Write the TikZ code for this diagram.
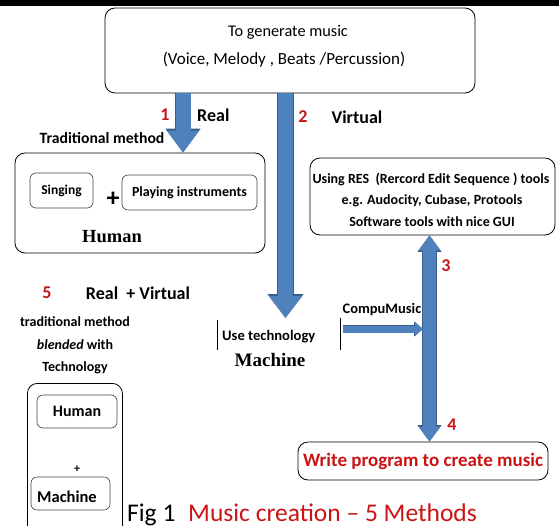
\documentclass[tikz,border=0pt]{standalone}
\usepackage{fontspec}
\setmainfont{Carlito}
\newfontfamily\serifface{Liberation Serif}
\usetikzlibrary{arrows.meta, positioning, calc}

\begin{document}
\begin{tikzpicture}[x=1pt, y=-1pt, font=\bfseries]
\definecolor{arrowblue}{RGB}{79, 129, 189}
\definecolor{arrowedge}{RGB}{56, 93, 138}
\definecolor{labelred}{RGB}{200, 20, 20}
\tikzset{
  roundbox/.style={draw, rounded corners=10pt, line width=0.8pt},
  smallbox/.style={draw=black!75, rounded corners=6pt, line width=0.6pt},
  txt/.style={inner sep=0pt},
  num/.style={inner sep=0pt, text=labelred, font=\fontsize{18}{18}\selectfont\bfseries},
  flow/.style={draw=arrowblue, line width=15pt},
}
\useasboundingbox (0,0) rectangle (559,525);
\fill (0,0) rectangle (559,6);
% Goal
\node[roundbox, minimum width=370, minimum height=85] (goal) at (290,50.5) {};
\node[txt, font=\fontsize{16.3}{16}\selectfont] (goal1) at (288,32) {To generate music};
\node[txt, font=\fontsize{17}{17}\selectfont] (goal2) at (284,60) {(Voice, Melody , Beats /Percussion)};
% 1: Real, traditional method
\node[txt, font=\fontsize{15.7}{15.7}\selectfont\bfseries] (trad) at (102,138) {Traditional method};
\node[roundbox, minimum width=250, minimum height=100] (human) at (140,203) {};
\node[smallbox, minimum width=63, minimum height=35] (sing) at (61.5,190.5) {};
\node[txt, font=\fontsize{13.5}{13.5}\selectfont\bfseries] (singtxt) at (sing.center) {Singing};
\node[txt, font=\fontsize{26}{26}\selectfont\bfseries] (plus1) at (113,199) {+};
\node[smallbox, minimum width=135, minimum height=35] (play) at (189.5,192.5) {};
\node[txt, font=\fontsize{14}{14}\selectfont\bfseries] (playtxt) at (play.center) {Playing instruments};
\node[txt, font=\fontsize{18.5}{18.5}\serifface\bfseries] (humantxt) at (112,237) {Human};
\coordinate (a1) at (183,0);
\draw[flow, preaction={draw=arrowedge, line width=16.4pt, -{Triangle[length=24pt, width=33.5pt]}},
  -{Triangle[length=22pt, width=31pt]}] (goal.south -| a1) -- (human.north -| a1);
\node[num] (n1) at (165,115) {1};
\node[txt, font=\fontsize{18}{18}\selectfont\bfseries, anchor=west] (real) at (197,115) {Real};
% 2: Virtual, machine
\node[txt, font=\fontsize{14.6}{14.6}\selectfont\bfseries, anchor=west] (usetech) at (222,337) {Use technology};
\node[txt, font=\fontsize{19}{19}\serifface\bfseries] (machine) at (270,360) {Machine};
\coordinate (a2) at (285.5,318);
\draw[flow, preaction={draw=arrowedge, line width=16.4pt, -{Triangle[length=24pt, width=34.5pt]}},
  -{Triangle[length=22pt, width=32pt]}] (goal.south -| a2) -- (a2);
\node[num] (n2) at (303,117) {2};
\node[txt, font=\fontsize{18}{18}\selectfont\bfseries] (virtual) at (357,117) {Virtual};
\draw (217,320) -- (217,350);
% 3 and 4: tools, program
\node[roundbox, minimum width=245, minimum height=77] (res) at (432.5,196.5) {};
\node[txt, font=\fontsize{14}{14}\selectfont\bfseries] (res1) at (431,179) {Using RES\ \ (Rercord Edit Sequence ) tools};
\node[txt, font=\fontsize{14}{14}\selectfont\bfseries] (res2) at (432,201) {e.g. Audocity, Cubase, Protools};
\node[txt, font=\fontsize{14}{14}\selectfont\bfseries] (res3) at (432,222) {Software tools with nice GUI};
\node[roundbox, minimum width=250, minimum height=38] (write) at (423,461) {};
\node[txt, font=\fontsize{19}{19}\selectfont\bfseries, text=labelred] (writetxt) at (write.center) {Write program\ to create music};
\coordinate (a3) at (429.5,0);
\draw[flow, line width=13pt,
  preaction={draw=arrowedge, line width=14.4pt, {Triangle[length=16.5pt, width=23pt]}-{Triangle[length=16.5pt, width=23pt]}},
  {Triangle[length=15pt, width=21pt]}-{Triangle[length=15pt, width=21pt]}] (res.south -| a3) -- (write.north -| a3);
\node[num] (n3) at (446,266) {3};
\node[num] (n4) at (452,425) {4};
\node[txt, font=\fontsize{14.5}{14.5}\selectfont\bfseries] (compu) at (382,310) {CompuMusic};
\coordinate (c1) at (343,329);
\coordinate (c2) at (423,329);
\draw[flow, line width=7pt,
  preaction={draw=arrowedge, line width=8.2pt, -{Triangle[length=9pt, width=14.5pt]}},
  -{Triangle[length=8pt, width=13pt]}] (c1) -- (c2);
\draw (340,318) -- (340,350);
% 5: Real + Virtual
\node[num] (n5) at (47,293) {5};
\node[txt, font=\fontsize{18}{18}\selectfont\bfseries] (both) at (138,293) {Real\ \ + Virtual};
\node[txt, font=\fontsize{14}{14}\selectfont\bfseries] (blend1) at (75,322) {traditional method};
\node[txt, font=\fontsize{14}{14}\selectfont\bfseries] (blend2) at (75,345) {\textit{blended} with};
\node[txt, font=\fontsize{14}{14}\selectfont\bfseries] (blend3) at (75,368) {Technology};
\node[roundbox, minimum width=95, minimum height=160, anchor=north west] (mix) at (27,383) {};
\node[smallbox, minimum width=80, minimum height=33] (mixhuman) at (77,411.5) {};
\node[txt, font=\fontsize{16}{16}\selectfont\bfseries] (mixhumantxt) at (mixhuman.center) {Human};
\node[txt, font=\fontsize{12}{12}\selectfont\bfseries] (plus2) at (77,469) {+};
\node[smallbox, minimum width=79, minimum height=33] (mixmachine) at (70.5,493.5) {};
\node[txt, font=\fontsize{16.5}{16.5}\selectfont\bfseries, anchor=west] (mixmachinetxt) at (37,497) {Machine};
% caption
\node[txt, font=\fontsize{25.5}{25.5}\selectfont\mdseries, anchor=base west] (fig) at (127,521) {Fig 1};
\node[txt, font=\fontsize{25.5}{25.5}\selectfont\mdseries, text=labelred, anchor=base west] (caption) at (188,521) {Music creation -- 5 Methods};
\end{tikzpicture}
\end{document}
